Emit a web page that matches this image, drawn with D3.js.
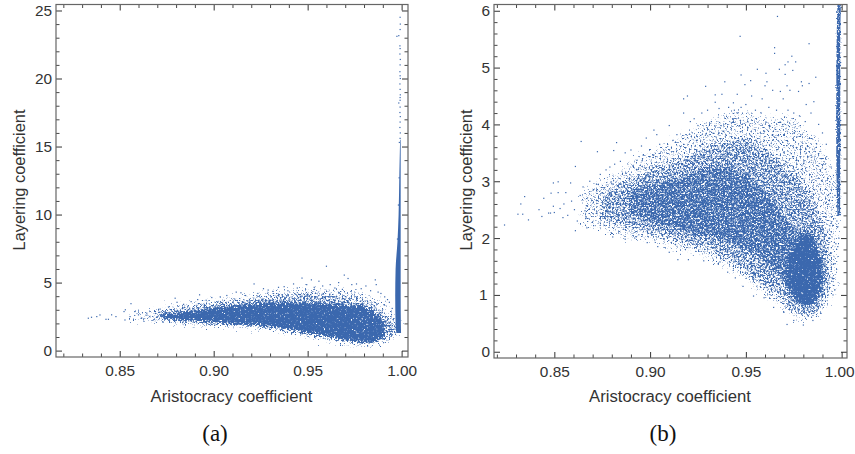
<!DOCTYPE html>
<html>
<head>
<meta charset="utf-8">
<script src="https://cdn.jsdelivr.net/npm/d3@7"></script>
<style>
  html, body { margin: 0; padding: 0; background: #fff; }
  svg { display: block; }
  text { font-family: "Liberation Sans", sans-serif; fill: #333; }
  .caption { font-family: "Liberation Serif", serif; fill: #111; }
</style>
</head>
<body>
<div id="chart"></div>
<script>
const xTicks = [0.85, 0.90, 0.95, 1.00];
const xMinor = [0.82, 0.83, 0.84, 0.86, 0.87, 0.88, 0.89, 0.91, 0.92, 0.93, 0.94, 0.96, 0.97, 0.98, 0.99];
const yTicksA = [0, 5, 10, 15, 20, 25];
const yMinorA = [1, 2, 3, 4, 6, 7, 8, 9, 11, 12, 13, 14, 16, 17, 18, 19, 21, 22, 23, 24];
const yTicksB = [0, 1, 2, 3, 4, 5, 6];
const yMinorB = [0.2, 0.4, 0.6, 0.8, 1.2, 1.4, 1.6, 1.8, 2.2, 2.4, 2.6, 2.8, 3.2, 3.4, 3.6, 3.8, 4.2, 4.4, 4.6, 4.8, 5.2, 5.4, 5.6, 5.8];

// the clouds hold far too many dots to read one by one, so dense parts are
// envelopes: [x, low, high]
const fringeA = [[0.856, 2.35, 2.65], [0.87, 2.2, 2.9], [0.88, 2.1, 3.2], [0.89, 2.0, 3.4], [0.90, 1.95, 3.6], [0.91, 1.9, 3.85], [0.92, 1.75, 4.0], [0.93, 1.6, 4.2], [0.94, 1.4, 4.4], [0.95, 1.15, 4.45], [0.96, 0.9, 4.5], [0.97, 0.6, 4.4], [0.98, 0.5, 4.1], [0.985, 0.5, 3.8], [0.99, 0.65, 3.4], [0.994, 1.0, 2.8], [0.998, 1.25, 2.1]];
const midA = [[0.868, 2.3, 2.75], [0.88, 2.2, 3.05], [0.89, 2.1, 3.25], [0.90, 2.0, 3.45], [0.91, 1.95, 3.6], [0.92, 1.85, 3.75], [0.93, 1.7, 3.9], [0.94, 1.5, 4.05], [0.95, 1.25, 4.1], [0.96, 1.0, 4.0], [0.97, 0.72, 3.9], [0.98, 0.6, 3.6], [0.985, 0.6, 3.3], [0.99, 0.8, 2.7], [0.994, 1.1, 2.2], [0.998, 1.3, 1.9]];
const coreA = [[0.872, 2.4, 2.6], [0.885, 2.25, 2.85], [0.895, 2.15, 3.05], [0.905, 2.05, 3.2], [0.915, 1.95, 3.35], [0.925, 1.85, 3.45], [0.935, 1.7, 3.5], [0.945, 1.45, 3.5], [0.955, 1.2, 3.45], [0.965, 0.95, 3.4], [0.975, 0.72, 3.3], [0.98, 0.65, 3.2], [0.985, 0.65, 2.9], [0.988, 0.8, 2.4], [0.991, 1.1, 1.9]];
const spikeA = [[1.3, 0.9972, 0.9997], [2, 0.9968, 0.9996], [4, 0.9966, 0.9995], [6, 0.9968, 0.9995], [8, 0.9978, 0.9995], [10, 0.9984, 0.9995], [13, 0.9988, 0.9995], [15.5, 0.9992, 0.9995]];

const fringeB = [[0.865, 2.25, 2.8], [0.875, 2.15, 3.0], [0.885, 2.05, 3.2], [0.895, 2.0, 3.45], [0.905, 1.9, 3.6], [0.915, 1.8, 3.75], [0.925, 1.72, 3.95], [0.935, 1.6, 4.1], [0.945, 1.4, 4.2], [0.955, 1.15, 4.15], [0.965, 0.9, 4.1], [0.975, 0.62, 4.1], [0.98, 0.55, 3.9], [0.987, 0.6, 3.7], [0.992, 0.85, 3.4], [0.997, 1.1, 3.0]];
const midB = [[0.875, 2.35, 2.8], [0.885, 2.25, 2.95], [0.90, 2.1, 3.2], [0.91, 2.0, 3.3], [0.92, 1.9, 3.45], [0.93, 1.8, 3.6], [0.94, 1.65, 3.7], [0.95, 1.4, 3.75], [0.96, 1.15, 3.55], [0.97, 0.9, 3.25], [0.98, 0.65, 2.95], [0.985, 0.68, 2.6], [0.99, 0.9, 2.25], [0.993, 1.2, 1.85]];
const denseB = [[0.89, 2.45, 2.8], [0.90, 2.3, 2.95], [0.91, 2.2, 3.0], [0.92, 2.1, 3.1], [0.93, 2.05, 3.25], [0.94, 1.95, 3.25], [0.95, 1.8, 3.1], [0.96, 1.6, 2.8], [0.97, 1.25, 2.4], [0.975, 0.95, 2.15], [0.98, 0.8, 2.1], [0.985, 0.85, 1.95], [0.988, 1.1, 1.65]];
const coreB = [[0.972, 1.15, 1.65], [0.977, 0.9, 1.95], [0.98, 0.85, 2.1], [0.984, 0.85, 2.1], [0.987, 0.95, 1.85], [0.99, 1.15, 1.55]];
const spikeB = [[2.4, 0.9978, 0.9992], [3.5, 0.9972, 0.9993], [4.5, 0.9972, 0.9993], [5.5, 0.9974, 0.9993], [6.1, 0.9978, 0.9996]];

// single dots outside the envelopes: [x, y]
const dotsA = [[0.8333, 2.38], [0.835, 2.45], [0.8378, 2.5], [0.8395, 2.62], [0.8427, 2.3], [0.844, 2.3], [0.8457, 2.63], [0.848, 2.5], [0.8523, 2.87], [0.853, 3.0], [0.856, 3.45], [0.8528, 2.25], [0.8555, 2.5], [0.858, 2.87], [0.86, 2.63], [0.8617, 2.4], [0.8644, 2.75], [0.866, 2.5], [0.869, 2.87], [0.868, 2.26],
  [0.8715, 3.05], [0.876, 3.2], [0.8795, 3.85], [0.8805, 3.55], [0.884, 3.4], [0.888, 3.6], [0.8925, 4.1], [0.8915, 3.75], [0.896, 3.7], [0.899, 3.9], [0.9035, 3.95], [0.907, 4.05], [0.912, 4.3], [0.9145, 4.25], [0.917, 4.05], [0.9215, 4.9], [0.9235, 4.2], [0.9265, 4.55], [0.929, 4.45], [0.9315, 4.35], [0.9345, 4.65], [0.9375, 4.7], [0.9395, 4.4], [0.9425, 4.9], [0.947, 5.33], [0.9445, 4.6], [0.9495, 4.85], [0.952, 5.2], [0.956, 5.1], [0.9535, 4.65], [0.958, 4.75], [0.96, 6.2], [0.962, 4.85], [0.9645, 4.6], [0.9665, 5.0], [0.9695, 5.55], [0.9715, 5.3], [0.9735, 4.85], [0.976, 4.9], [0.9685, 4.5], [0.9785, 4.55], [0.981, 4.75], [0.9835, 4.4], [0.986, 5.2], [0.9865, 4.85], [0.9875, 4.3], [0.989, 4.2], [0.991, 3.95], [0.9935, 3.55], [0.995, 3.1], [0.9925, 3.75],
  [0.9992, 24.5], [0.9993, 24.0], [0.9992, 23.6], [0.9975, 23.1], [0.9985, 23.15], [0.9991, 22.4], [0.9992, 22.2], [0.9991, 21.8], [0.9993, 21.4], [0.9992, 21.0], [0.9991, 20.5], [0.9992, 20.2], [0.9993, 20.0], [0.9991, 19.6], [0.9992, 19.2], [0.9993, 18.8], [0.9992, 18.6], [0.9985, 18.2], [0.9992, 18.4], [0.9992, 17.9], [0.9991, 17.5], [0.9993, 17.2], [0.9992, 16.8], [0.9991, 16.4], [0.9993, 16.0], [0.9992, 15.6], [0.9988, 15.3], [0.9987, 12.7], [0.9983, 10.7], [0.9978, 8.2]];

const dotsB = [[0.824, 2.23], [0.831, 2.42], [0.8325, 2.6], [0.8345, 2.73], [0.8335, 2.42], [0.8365, 2.32], [0.842, 2.5], [0.8435, 2.38], [0.8445, 2.7], [0.847, 2.44], [0.848, 2.44], [0.8483, 2.79], [0.8495, 2.97], [0.852, 2.99], [0.852, 2.8], [0.8495, 2.56], [0.856, 2.8], [0.8585, 2.97], [0.861, 3.26], [0.864, 3.7], [0.8725, 3.52], [0.881, 3.54], [0.8825, 3.68], [0.861, 2.13],
  [0.85, 2.45], [0.853, 2.52], [0.855, 2.6], [0.8545, 2.36], [0.857, 2.4], [0.859, 2.65], [0.8605, 2.5], [0.862, 2.3], [0.8635, 2.75], [0.865, 2.9], [0.866, 2.48], [0.867, 2.18], [0.8685, 3.0], [0.8705, 2.22], [0.872, 2.95], [0.874, 3.12], [0.877, 3.2], [0.879, 3.25], [0.8815, 3.3], [0.8845, 3.35], [0.887, 3.5], [0.89, 3.55], [0.8805, 2.02], [0.887, 1.98], [0.892, 2.0], [0.8955, 3.62], [0.898, 3.76], [0.902, 3.9], [0.9035, 3.82], [0.905, 3.65], [0.91, 3.98], [0.8985, 1.92], [0.904, 1.85], [0.91, 1.75], [0.9145, 1.62],
  [0.912, 3.72], [0.914, 3.82], [0.9175, 4.45], [0.9195, 4.5], [0.9175, 4.2], [0.921, 4.05], [0.923, 4.1], [0.925, 3.98], [0.927, 4.2], [0.929, 4.67], [0.93, 4.25], [0.932, 4.05], [0.934, 4.52], [0.934, 4.39], [0.9375, 4.53], [0.939, 4.75], [0.9435, 4.38], [0.9455, 4.53], [0.9475, 4.87], [0.947, 5.55], [0.9495, 4.7], [0.9525, 4.77], [0.953, 4.5], [0.956, 4.97], [0.9585, 4.45], [0.96, 4.68], [0.9605, 4.9], [0.961, 4.75], [0.964, 4.6], [0.965, 5.35], [0.965, 5.25], [0.9665, 5.9], [0.9675, 4.97], [0.968, 4.58], [0.9695, 4.45], [0.9705, 5.05], [0.9705, 4.88], [0.9715, 4.68], [0.972, 5.1], [0.973, 4.6], [0.974, 5.2], [0.9745, 4.95], [0.976, 5.1], [0.9775, 4.58], [0.979, 4.75], [0.9795, 4.68], [0.9815, 4.35], [0.983, 5.42], [0.983, 4.72], [0.9855, 4.4], [0.9865, 4.83],
  [0.936, 4.28], [0.941, 4.3], [0.944, 4.25], [0.9475, 4.3], [0.95, 4.35], [0.955, 4.25], [0.958, 4.2], [0.962, 4.3], [0.966, 4.25], [0.972, 4.25], [0.975, 4.2], [0.978, 4.15], [0.981, 4.05], [0.984, 4.2], [0.988, 4.0], [0.99, 3.85], [0.992, 3.65], [0.9945, 3.25], [0.9965, 2.75], [0.9975, 2.3], [0.997, 1.9], [0.9965, 1.55], [0.995, 1.3], [0.9955, 1.0],
  [0.92, 1.62], [0.928, 1.6], [0.9365, 1.58], [0.9405, 1.4], [0.9445, 1.3], [0.9485, 1.15], [0.954, 0.98], [0.9595, 0.95], [0.9645, 0.78], [0.9715, 0.48], [0.975, 0.55], [0.98, 0.47], [0.985, 0.55], [0.989, 0.68], [0.993, 1.0],
  [0.998, 2.2], [0.9985, 2.0], [0.998, 1.85], [0.9975, 2.55], [0.9988, 6.08]];

const blue = "#3b68ae";
const width = 855;
const height = 454;

const svg = d3.select("#chart").append("svg").attr("width", width).attr("height", height);

// speckle + rough edges so the bands read as stippled dots rather than flat shapes
const defs = svg.append("defs");
function speckle(id, cut, seed, rough) {
  const f = defs.append("filter").attr("id", id)
    .attr("filterUnits", "userSpaceOnUse")
    .attr("x", 0).attr("y", 0).attr("width", width).attr("height", height)
    .attr("color-interpolation-filters", "sRGB");
  f.append("feTurbulence").attr("type", "fractalNoise").attr("baseFrequency", 0.55)
    .attr("numOctaves", 2).attr("seed", seed).attr("result", "noise");
  f.append("feDisplacementMap").attr("in", "SourceGraphic").attr("in2", "noise")
    .attr("scale", rough).attr("xChannelSelector", "G").attr("yChannelSelector", "B").attr("result", "moved");
  f.append("feColorMatrix").attr("in", "noise").attr("type", "matrix")
    .attr("values", "0 0 0 0 0  0 0 0 0 0  0 0 0 0 0  1 0 0 0 0").attr("result", "a");
  f.append("feComponentTransfer").attr("in", "a").attr("result", "mask")
    .append("feFuncA").attr("type", "linear").attr("slope", 5).attr("intercept", -5 * cut);
  f.append("feComposite").attr("in", "moved").attr("in2", "mask").attr("operator", "in");
}
speckle("sparse", 0.53, 3, 24);
speckle("medium", 0.44, 7, 22);
speckle("thick", 0.38, 11, 18);
speckle("solid", 0.24, 5, 12);
speckle("spike", 0.2, 9, 3);

function drawPanel(p) {
  const x = d3.scaleLinear().domain(p.xDomain).range([p.left, p.right]);
  const y = d3.scaleLinear().domain(p.yDomain).range([p.bottom, p.top]);
  const g = svg.append("g");

  const band = d3.area().x((d) => x(d[0])).y0((d) => y(d[1])).y1((d) => y(d[2])).curve(d3.curveMonotoneX);
  p.bands.forEach(([rows, filter]) => {
    g.append("path").datum(rows).attr("fill", blue).attr("d", band).attr("filter", `url(#${filter})`);
  });

  const spike = d3.area().y((d) => y(d[0])).x0((d) => x(d[1])).x1((d) => x(d[2])).curve(d3.curveMonotoneY);
  const sp = g.append("path").datum(p.spike).attr("fill", blue).attr("d", spike);
  if (p.spikeFilter) sp.attr("filter", `url(#${p.spikeFilter})`);

  g.append("g").attr("fill", blue).selectAll("rect").data(p.dots).join("rect")
    .attr("x", (d) => x(d[0]) - 0.6)
    .attr("y", (d) => y(d[1]) - 0.6)
    .attr("width", 1.2)
    .attr("height", 1.2);

  const axes = [
    [d3.axisBottom(x), p.bottom, 0, xTicks, xMinor, d3.format(".2f"), 8],
    [d3.axisTop(x), p.top, 0, xTicks, xMinor, () => "", 8],
    [d3.axisLeft(y), 0, p.left, p.yTicks, p.yMinor, d3.format("d"), 4],
    [d3.axisRight(y), 0, p.right, p.yTicks, p.yMinor, () => "", 4]
  ];
  axes.forEach(([axis, ty, tx, major, minor, fmt, pad]) => {
    g.append("g").attr("transform", `translate(${tx},${ty})`)
      .call(axis.tickValues(minor).tickSize(-3.5).tickFormat(""))
      .call((s) => s.select(".domain").remove())
      .selectAll("line").attr("stroke", "#333").attr("stroke-width", 0.9);
    const m = g.append("g").attr("transform", `translate(${tx},${ty})`)
      .call(axis.tickValues(major).tickSize(-6).tickPadding(pad).tickFormat(fmt));
    m.select(".domain").remove();
    m.selectAll("line").attr("stroke", "#333").attr("stroke-width", 1);
    m.selectAll("text").style("font-size", "15.4px").style("font-family", '"Liberation Sans", sans-serif').attr("fill", "#333");
    // the last label sits a little left of its tick, it would hit the page edge otherwise
    if (p.lastLabelShift) m.selectAll("text").filter((d) => d === 1).attr("dx", p.lastLabelShift);
  });

  g.append("rect").attr("x", p.left).attr("y", p.top)
    .attr("width", p.right - p.left).attr("height", p.bottom - p.top)
    .attr("fill", "none").attr("stroke", "#666").attr("stroke-width", 1.2);

  g.append("text").attr("x", p.xTitleX).attr("y", 402).attr("text-anchor", "middle")
    .style("font-size", "16.7px").text("Aristocracy coefficient");
  g.append("text").attr("transform", `translate(${p.yTitleX},${p.yTitleY}) rotate(-90)`)
    .attr("text-anchor", "middle").style("font-size", "16.4px").text("Layering coefficient");
  g.append("text").attr("class", "caption").attr("x", p.captionX).attr("y", 441)
    .attr("text-anchor", "middle").style("font-size", "23px").text(p.caption);
}

drawPanel({
  left: 56, right: 408, top: 4.5, bottom: 357,
  xDomain: [0.8161, 1.0034], yDomain: [-0.47, 25.44],
  yTicks: yTicksA, yMinor: yMinorA,
  bands: [[fringeA, "sparse"], [midA, "medium"], [coreA, "solid"], [coreA, "solid"]], spike: spikeA, dots: dotsA,
  xTitleX: 231.5, yTitleX: 25, yTitleY: 180, captionX: 215, caption: "(a)"
});

drawPanel({
  left: 494, right: 847, top: 4.5, bottom: 358,
  xDomain: [0.8185, 1.0028], yDomain: [-0.11, 6.11],
  yTicks: yTicksB, yMinor: yMinorB, lastLabelShift: -2.5,
  bands: [[fringeB, "sparse"], [midB, "medium"], [denseB, "thick"], [coreB, "solid"]], spike: spikeB, spikeFilter: "spike", dots: dotsB,
  xTitleX: 670, yTitleX: 472, yTitleY: 180, captionX: 663, caption: "(b)"
});
</script>
</body>
</html>
